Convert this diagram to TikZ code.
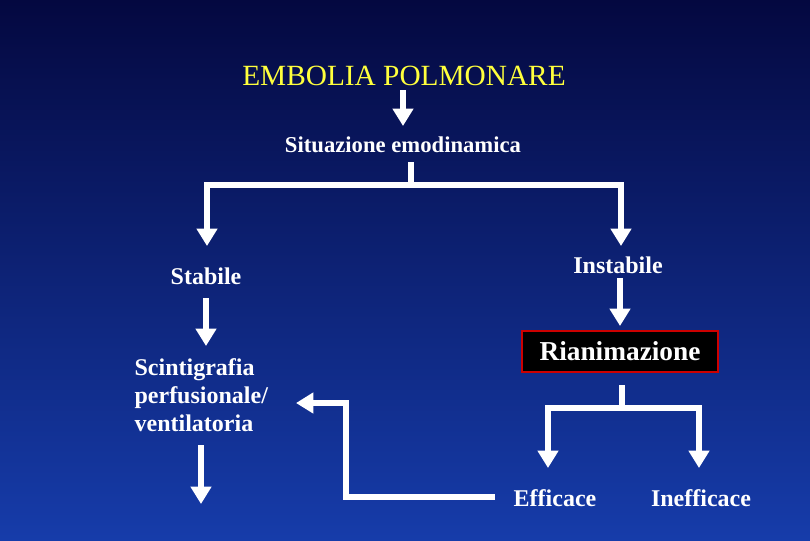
\documentclass[tikz,border=0pt]{standalone}
\usepackage{fontspec}
\setmainfont{Liberation Serif}
\usetikzlibrary{arrows.meta}
\definecolor{bgtop}{RGB}{4,8,64}
\definecolor{bgbot}{RGB}{22,60,170}
\definecolor{ttl}{RGB}{255,255,60}
\begin{document}
\begin{tikzpicture}[x=0.75pt,y=-0.75pt,
  lab/.style={text=white,font=\bfseries\fontsize{18}{20}\selectfont,inner sep=1pt},
  arr/.style={draw=white,line width=3.8pt,-{Triangle[width=15pt,length=13pt]}},
  ln/.style={draw=white,line width=3.8pt}]
\shade[top color=bgtop,bottom color=bgbot] (0,0) rectangle (810,540);
\useasboundingbox (0,0) rectangle (810,540);
\node[text=ttl,font=\fontsize{22}{24}\selectfont] (t) at (404,76) {EMBOLIA POLMONARE};
\node[lab,font=\bfseries\fontsize{17}{19}\selectfont] (s) at (403,145) {Situazione emodinamica};
\node[lab] (st) at (206,276) {Stabile};
\node[lab] (in) at (618,265) {Instabile};
\node[lab,align=left,anchor=west,font=\bfseries\fontsize{18}{21}\selectfont] (sc) at (133,395) {Scintigrafia\\perfusionale/\\ventilatoria};
\node[fill=black,draw=red!80!black,line width=1.5pt,minimum width=196*0.75pt,minimum height=41*0.75pt,text=white,font=\bfseries\fontsize{20.5}{22}\selectfont,inner sep=2pt] (r) at (620,351.5) {Rianimazione\hspace{12pt}};
\node[lab] (ef) at (555,498) {Efficace};
\node[lab] (ie) at (701,498) {Inefficace};
\coordinate (a1) at (403,90);
\coordinate (a2) at (403,126);
\draw[arr] (a1) -- (a2);
\coordinate (b0) at (411,162);
\coordinate (b1) at (411,185);
\coordinate (bl) at (207,185);
\coordinate (br) at (621,185);
\coordinate (blb) at (207,246);
\coordinate (brb) at (621,246);
\draw[ln] (b0) -- (b1);
\draw[arr] (b1) -- (bl) -- (blb);
\draw[arr] (b1) -- (br) -- (brb);
\coordinate (c1) at (206,298); \coordinate (c2) at (206,346);
\draw[arr] (c1) -- (c2);
\coordinate (d1) at (620,278); \coordinate (d2) at (620,326);
\draw[arr] (d1) -- (d2);
\coordinate (e0) at (622,385); \coordinate (e1) at (622,408);
\coordinate (el) at (548,408); \coordinate (er) at (699,408);
\coordinate (elb) at (548,468); \coordinate (erb) at (699,468);
\draw[ln] (e0) -- (e1);
\draw[arr] (e1) -- (el) -- (elb);
\draw[arr] (e1) -- (er) -- (erb);
\coordinate (f0) at (495,497); \coordinate (f1) at (346,497);
\coordinate (f2) at (346,403); \coordinate (f3) at (296,403);
\draw[arr] (f0) -- (f1) -- (f2) -- (f3);
\coordinate (g1) at (201,445); \coordinate (g2) at (201,504);
\draw[arr] (g1) -- (g2);
\end{tikzpicture}
\end{document}
